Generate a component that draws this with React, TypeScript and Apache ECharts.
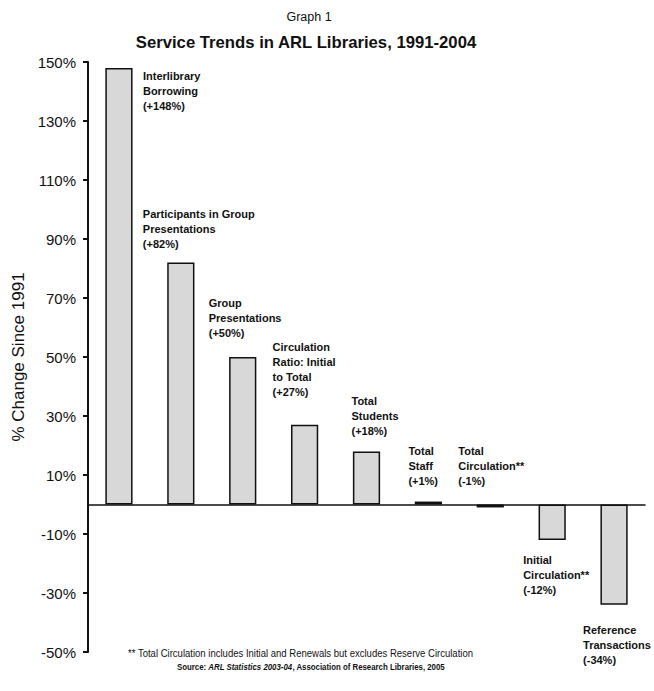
import React, { useEffect, useRef } from "react";
import * as echarts from "echarts";

const categories = [
  "Interlibrary Borrowing",
  "Participants in Group Presentations",
  "Group Presentations",
  "Circulation Ratio: Initial to Total",
  "Total Students",
  "Total Staff",
  "Total Circulation**",
  "Initial Circulation**",
  "Reference Transactions",
];
const values = [148, 82, 50, 27, 18, 1, -1, -12, -34];
const barLabels = [
  "Interlibrary\nBorrowing\n(+148%)",
  "Participants in Group\nPresentations\n(+82%)",
  "Group\nPresentations\n(+50%)",
  "Circulation\nRatio: Initial\nto Total\n(+27%)",
  "Total\nStudents\n(+18%)",
  "Total\nStaff\n(+1%)",
  "Total\nCirculation**\n(-1%)",
  "Initial\nCirculation**\n(-12%)",
  "Reference\nTransactions\n(-34%)",
];
const yTicks = [-50, -30, -10, 10, 30, 50, 70, 90, 110, 130, 150];
const titleTop = "Graph 1";
const titleMain = "Service Trends in ARL Libraries, 1991-2004";
const yAxisName = "% Change Since 1991";
const footnote = "** Total Circulation includes Initial and Renewals but excludes Reserve Circulation";

// label placement (style only): anchor side, offset [dx, dy], vertical alignment
const labelLayout: { pos: string; off: [number, number]; va: string }[] = [
  { pos: "top", off: [24, 1], va: "top" },
  { pos: "top", off: [-38, -11], va: "bottom" },
  { pos: "top", off: [-34, -17], va: "bottom" },
  { pos: "top", off: [-32, -25], va: "bottom" },
  { pos: "top", off: [-15, -13], va: "bottom" },
  { pos: "top", off: [-20, -13], va: "bottom" },
  { pos: "top", off: [-32, -16], va: "bottom" },
  { pos: "bottom", off: [-29, 13], va: "top" },
  { pos: "bottom", off: [-31, 18], va: "top" },
];

const FONT = "'Liberation Sans', Arial, sans-serif";

export default function App() {
  const ref = useRef<HTMLDivElement>(null);
  useEffect(() => {
    document.body.style.margin = "0";
    const chart = echarts.init(ref.current!, null, { renderer: "svg" });
    const data = values.map((v, i) => ({
      value: v,
      label: {
        show: true,
        formatter: barLabels[i],
        position: labelLayout[i].pos,
        distance: 0,
        offset: labelLayout[i].off,
        align: "left",
        verticalAlign: labelLayout[i].va,
      },
    }));
    chart.setOption({
      animation: false,
      backgroundColor: "#ffffff",
      textStyle: { fontFamily: FONT },
      title: [
        {
          text: titleTop,
          left: 304,
          top: 5,
          textAlign: "center",
          textStyle: { fontSize: 12.5, fontWeight: "normal", color: "#111", fontFamily: FONT },
        },
        {
          text: titleMain,
          left: 301,
          top: 29,
          textAlign: "center",
          textStyle: { fontSize: 16.7, fontWeight: "bold", color: "#111", fontFamily: FONT },
        },
      ],
      grid: { left: 88, right: 9, top: 62, bottom: 39, containLabel: false },
      xAxis: {
        type: "category",
        data: categories,
        axisLine: { onZero: true, lineStyle: { color: "#111", width: 1.5 } },
        axisTick: { show: false },
        axisLabel: { show: false },
        splitLine: { show: false },
      },
      yAxis: {
        type: "value",
        min: -50,
        max: 150,
        name: yAxisName,
        nameLocation: "middle",
        nameGap: 58,
        nameTextStyle: { fontSize: 17, color: "#111", fontFamily: FONT },
        axisLine: { show: true, onZero: false, lineStyle: { color: "#111", width: 2 } },
        axisTick: {
          show: true,
          inside: false,
          length: 5,
          lineStyle: { color: "#111", width: 2 },
          customValues: yTicks,
        },
        axisLabel: {
          fontSize: 15,
          color: "#111",
          margin: 12,
          fontFamily: FONT,
          customValues: yTicks,
          formatter: (v: number) => `${v}%`,
        },
        splitLine: { show: false },
      },
      series: [
        {
          type: "bar",
          data,
          barWidth: "44%",
          itemStyle: { color: "#d8d8d8", borderColor: "#111", borderWidth: 1.5 },
          label: {
            fontSize: 11,
            fontWeight: "bold",
            lineHeight: 15,
            color: "#111",
            fontFamily: FONT,
          },
        },
      ],
      graphic: [
        {
          type: "text",
          x: 128,
          y: 648,
          scaleX: 0.867,
          style: { text: footnote, fontSize: 11, fill: "#111", fontFamily: FONT },
        },
        {
          type: "text",
          x: 177,
          y: 662,
          scaleX: 0.825,
          style: {
            text: "{b|Source: }{bi|ARL Statistics 2003-04}{b|, Association of Research Libraries, 2005}",
            rich: {
              b: { fontSize: 9.5, fontWeight: "bold", fill: "#111", fontFamily: FONT },
              bi: { fontSize: 9.5, fontWeight: "bold", fontStyle: "italic", fill: "#111", fontFamily: FONT },
            },
          },
        },
      ],
    });
    return () => chart.dispose();
  }, []);
  return <div ref={ref} style={{ width: 654, height: 691 }} />;
}
